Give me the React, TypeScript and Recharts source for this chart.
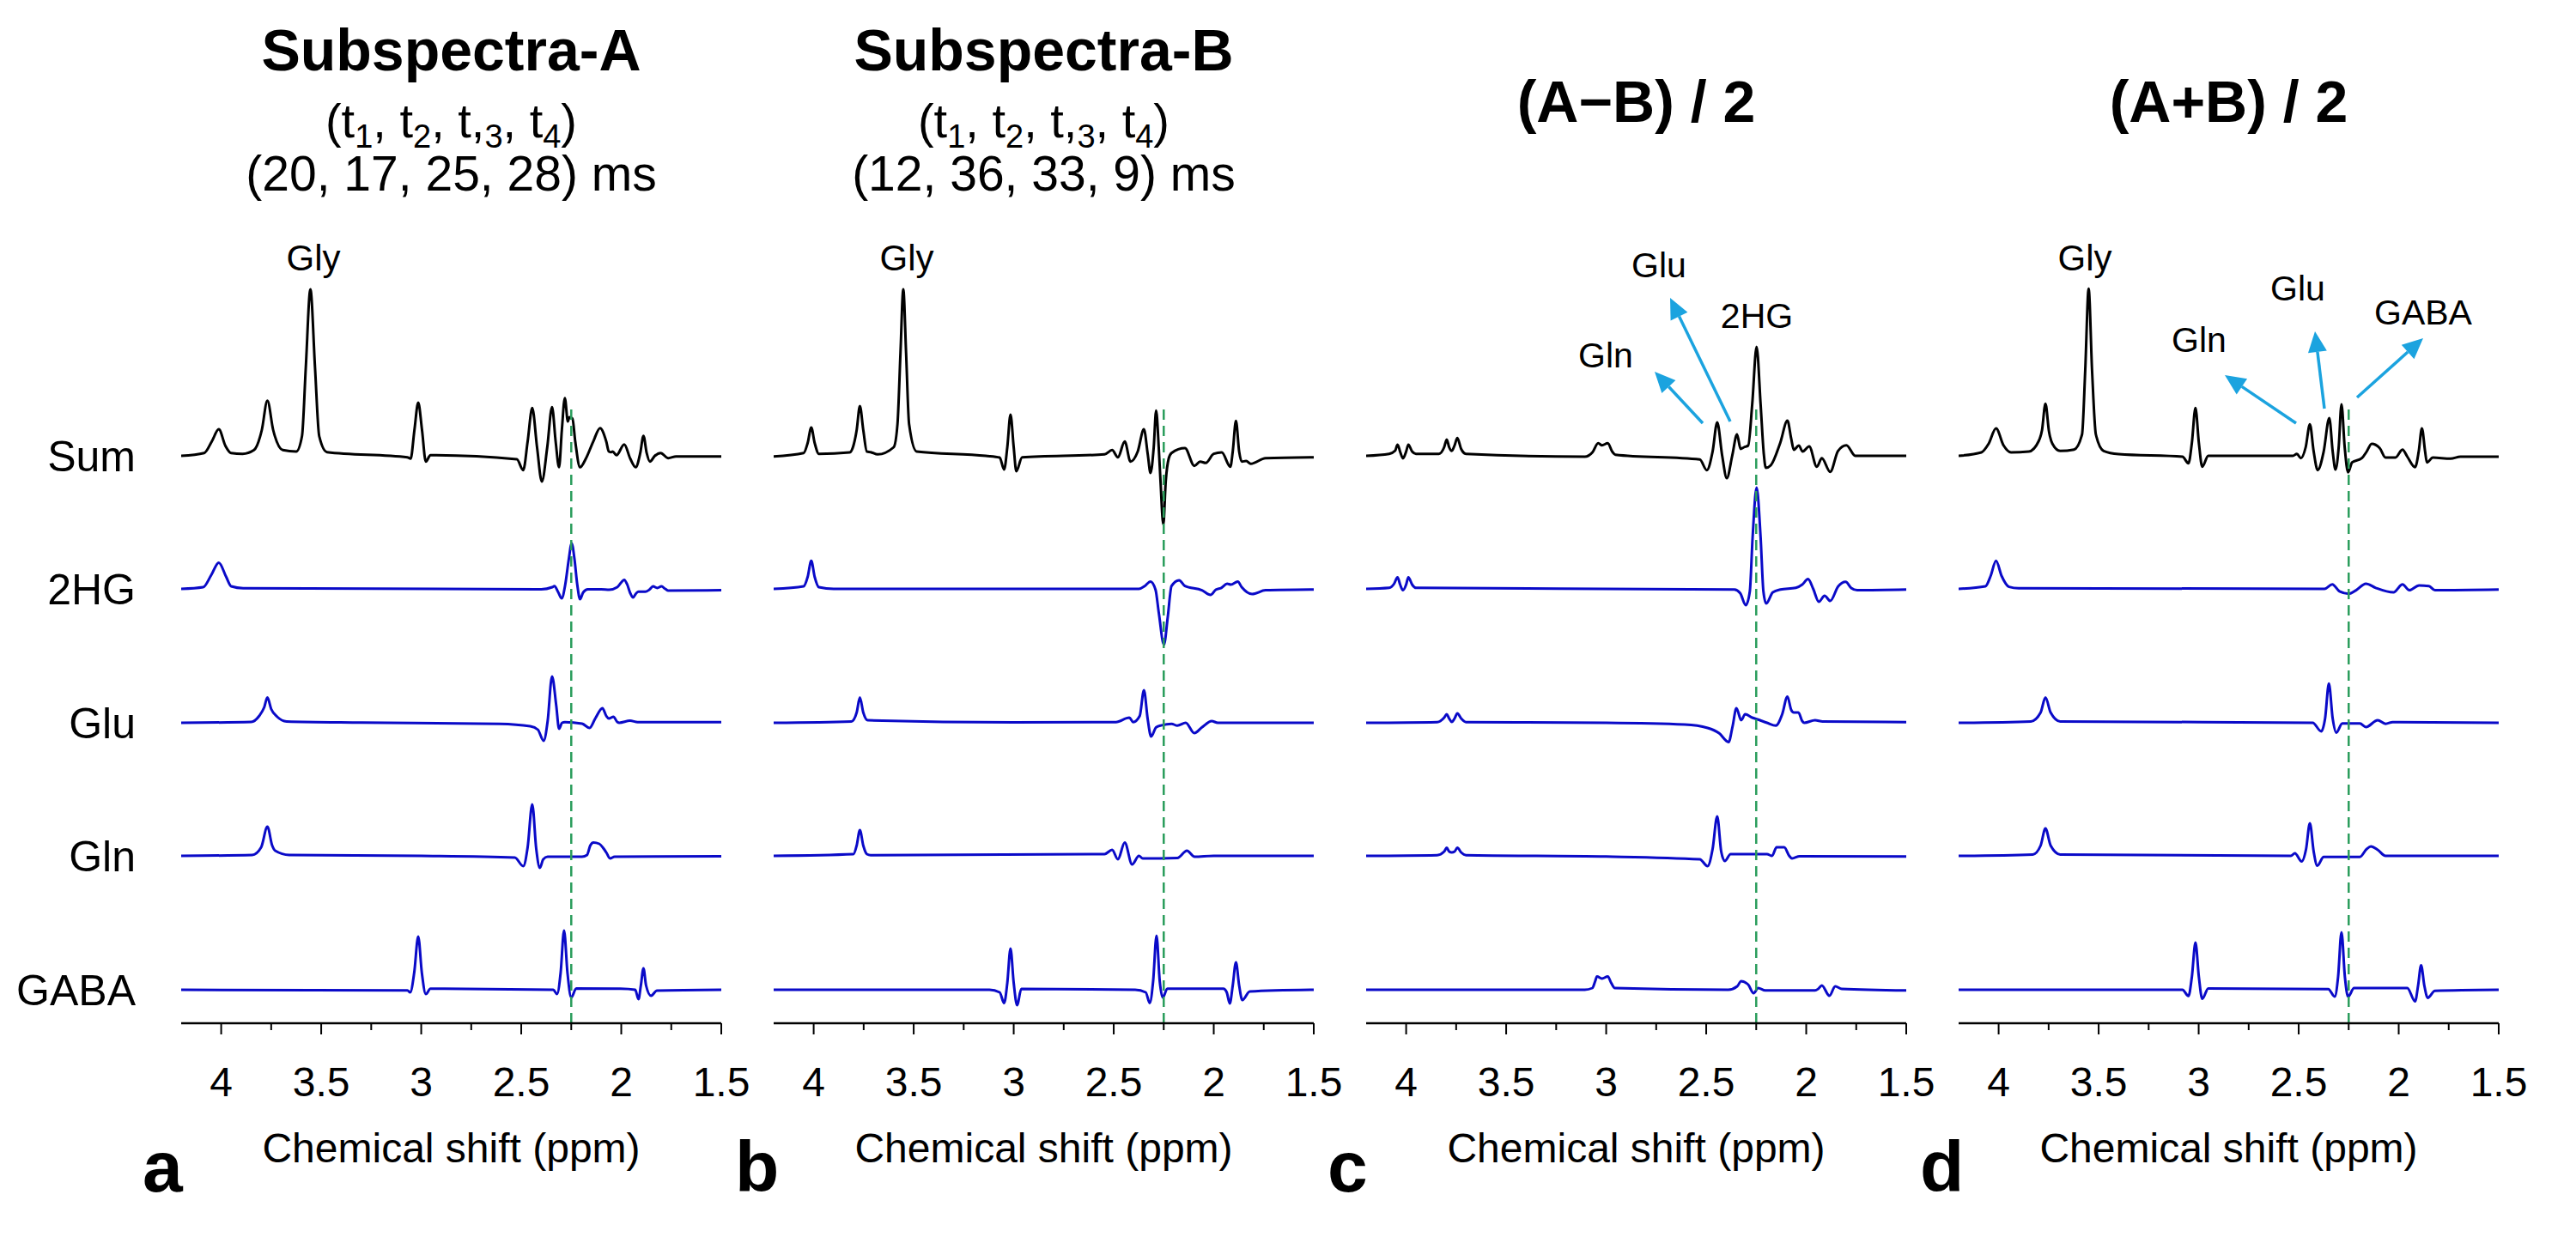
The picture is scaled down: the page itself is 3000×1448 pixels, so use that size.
import React from "react";
import { LineChart, Line, XAxis, YAxis, ReferenceLine } from "recharts";

type Pt = [number, number]; // [ppm, amplitude a.u.]

// ---- axis ----
const ppmDomain: [number, number] = [1.5, 4.2];
const ppmTicks = [4, 3.75, 3.5, 3.25, 3, 2.75, 2.5, 2.25, 2, 1.75, 1.5];
const ppmLabels = ["4", "3.5", "3", "2.5", "2", "1.5"];
const markerPpm = 2.25;

const rowNames = ["Sum", "2HG", "Glu", "Gln", "GABA"];
const panelLetters = ["a", "b", "c", "d"];

// ---- panel a : Subspectra-A ----
const sumA: Pt[] = [[4.2,0],[4.085,3.3],[4.047,16.7],[4.012,31],[3.979,11.7],[3.951,3.3],[3.893,2.3],[3.836,6.7],[3.797,30],[3.769,64.3],[3.74,30],[3.692,6.7],[3.625,5],[3.596,23],[3.577,103],[3.554,194],[3.531,103],[3.51,23],[3.471,4.3],[3.069,-1.7],[3.053,-3.3],[3.034,30],[3.015,62],[2.996,30],[2.977,-6.7],[2.954,0.7],[2.522,-4],[2.49,-16.7],[2.468,16.7],[2.445,55.7],[2.421,10],[2.397,-30],[2.37,10],[2.346,56.7],[2.328,16.7],[2.311,-13.3],[2.297,30],[2.282,67.3],[2.267,40],[2.259,45],[2.244,43.3],[2.23,16.7],[2.206,-13.3],[2.177,-3.3],[2.14,16.7],[2.106,32.3],[2.075,16.7],[2.062,5],[2.05,4.3],[2.043,5],[2.024,0.7],[1.985,13.3],[1.955,-3.3],[1.928,-13.3],[1.905,3.3],[1.889,23.3],[1.873,3.3],[1.857,-6.7],[1.832,0],[1.803,3.3],[1.765,-2.7],[1.726,-0.7],[1.5,-0.7]];
const hgA: Pt[] = [[4.2,0],[4.09,2],[4.05,16],[4.012,30.6],[3.975,14],[3.95,3],[3.89,0.8],[2.4,-0.5],[2.345,2],[2.334,3.3],[2.315,-4],[2.298,-11],[2.28,5],[2.262,35],[2.248,53],[2.234,35],[2.22,5],[2.206,-12],[2.19,-4],[2.167,-0.5],[2.1,-0.5],[2.06,-1],[2.02,2],[1.998,8],[1.985,10.6],[1.97,5],[1.955,-5],[1.941,-10],[1.925,-5],[1.914,-3.3],[1.88,-3.3],[1.86,-1],[1.841,2.9],[1.82,1],[1.799,2.9],[1.78,0],[1.765,-2],[1.5,-1.6]];
const gluA: Pt[] = [[4.2,0],[3.85,1],[3.81,8],[3.785,18],[3.769,29.4],[3.75,16],[3.72,7],[3.673,1.6],[3.3,0.3],[2.608,-1.2],[2.455,-4],[2.417,-8],[2.388,-21],[2.368,2],[2.346,54],[2.325,20],[2.311,-7],[2.296,0],[2.282,0.8],[2.196,-1],[2.158,-6],[2.13,5],[2.094,17],[2.075,8],[2.062,5],[2.039,7],[2.02,1],[2.01,0],[1.956,2.4],[1.918,0.8],[1.5,0.8]];
const glnA: Pt[] = [[4.2,0],[3.845,1],[3.8,10],[3.769,33.9],[3.745,12],[3.73,6],[3.66,1],[3.0,0],[2.532,-2],[2.49,-12],[2.468,10],[2.445,60],[2.425,8],[2.407,-14],[2.39,-4],[2.368,-1],[2.196,-1],[2.171,1],[2.155,12],[2.139,15.5],[2.11,14],[2.09,9],[2.075,4],[2.056,-3],[2.033,-1],[1.5,-0.5]];
const gabaA: Pt[] = [[4.2,0],[3.069,-0.8],[3.055,-3],[3.035,20],[3.015,62],[2.997,20],[2.977,-5],[2.954,1.2],[2.34,0],[2.321,-5],[2.303,20],[2.286,69],[2.269,20],[2.25,-9],[2.225,1.6],[2.004,1.2],[1.93,0],[1.914,-11],[1.902,5],[1.889,25],[1.876,5],[1.851,-7],[1.822,-1],[1.5,0]];

// ---- panel b : Subspectra-B ----
const sumB: Pt[] = [[4.2,-0.7],[4.05,3.3],[4.03,15],[4.012,33],[3.995,15],[3.974,2.3],[3.82,4],[3.801,12],[3.785,30],[3.769,58],[3.752,30],[3.734,5],[3.715,4.3],[3.68,1.7],[3.6,10],[3.581,37],[3.566,120],[3.552,194],[3.538,120],[3.523,37],[3.485,5],[3.14,0],[3.07,-2],[3.048,-16],[3.032,10],[3.016,48],[3.0,10],[2.987,-18],[2.958,-1.7],[2.546,1.7],[2.508,6.7],[2.479,-1.7],[2.445,16.7],[2.416,-6.7],[2.38,5],[2.349,31],[2.33,2],[2.316,-20],[2.3,10],[2.288,52.7],[2.275,10],[2.266,-30],[2.252,-80],[2.24,-30],[2.225,-3],[2.211,3.3],[2.144,9],[2.097,-11.7],[2.068,-6.7],[2.04,-8.3],[2.0,2.3],[1.96,4],[1.917,-12.7],[1.905,5],[1.889,40.7],[1.873,5],[1.86,-6.7],[1.838,-6],[1.815,-9.3],[1.741,-2.7],[1.5,-1.7]];
const hgB: Pt[] = [[4.2,0],[4.05,3],[4.03,14],[4.012,32.7],[3.995,14],[3.974,2],[3.9,0],[2.374,0],[2.345,3.3],[2.316,8.6],[2.291,-1],[2.274,-29],[2.249,-65],[2.23,-33],[2.211,3.3],[2.173,10],[2.144,3.3],[2.059,-1.6],[2.016,-7],[1.99,-1],[1.962,1.2],[1.933,6],[1.914,5],[1.88,8.6],[1.86,2],[1.808,-6],[1.741,-1.6],[1.5,-0.8]];
const gluB: Pt[] = [[4.2,0],[3.811,1.6],[3.785,12],[3.769,29.4],[3.752,12],[3.73,2.9],[3.0,0.5],[2.489,0.8],[2.422,6],[2.403,0.8],[2.37,8],[2.349,38],[2.33,4],[2.313,-16],[2.288,-5.3],[2.26,-2.9],[2.211,-1.2],[2.182,-3.3],[2.14,0],[2.097,-12],[2.059,-5.3],[2.01,2],[1.98,0],[1.5,0]];
const glnB: Pt[] = [[4.2,0],[3.801,2],[3.785,12],[3.769,30],[3.752,12],[3.734,2],[3.715,0.8],[2.546,2],[2.508,7],[2.479,-4],[2.445,15.5],[2.408,-10],[2.374,0],[2.355,-3],[2.182,-2.5],[2.134,6],[2.096,-1],[2.0,0],[1.5,0]];
const gabaB: Pt[] = [[4.2,0],[3.121,0],[3.07,-3],[3.048,-15.5],[3.032,8],[3.016,48],[3.0,8],[2.983,-18],[2.962,1],[2.393,0],[2.34,-3],[2.32,-15.5],[2.303,10],[2.286,63],[2.27,10],[2.255,-9],[2.232,1.2],[1.952,1.2],[1.935,-3],[1.92,-16],[1.905,5],[1.889,32],[1.873,5],[1.857,-12],[1.82,-2],[1.5,0]];

// ---- panel c : (A-B)/2 ----
const sumC: Pt[] = [[4.2,0],[4.085,2.3],[4.055,6],[4.043,13],[4.029,4],[4.016,-3],[4.0,5],[3.989,13],[3.97,5],[3.951,2.3],[3.836,2.3],[3.81,10],[3.797,19],[3.785,10],[3.772,5.7],[3.758,12],[3.744,20.7],[3.725,8],[3.701,2.3],[3.107,-1],[3.069,4],[3.04,14.7],[3.021,12.3],[2.992,14.7],[2.97,5],[2.954,1.3],[2.532,-4.3],[2.497,-16.7],[2.468,5],[2.445,39],[2.42,0],[2.397,-26],[2.37,0],[2.346,25],[2.328,8],[2.311,10],[2.29,12],[2.27,60],[2.248,127],[2.228,60],[2.212,2],[2.202,-14],[2.177,-11],[2.13,15],[2.094,41],[2.075,20],[2.062,7],[2.037,12],[2.018,5],[1.985,11],[1.947,-12.7],[1.922,-2.7],[1.88,-18.7],[1.841,5.7],[1.799,12.3],[1.755,0],[1.5,0]];
const hgC: Pt[] = [[4.2,0],[4.085,1.2],[4.06,6],[4.043,13.5],[4.03,5],[4.016,-1.6],[4.0,5],[3.989,13.5],[3.97,5],[3.951,1.2],[2.359,-0.8],[2.33,-5],[2.302,-19],[2.282,-3],[2.268,60],[2.248,118],[2.228,60],[2.214,-3],[2.2,-17],[2.167,-4],[2.129,-0.8],[2.052,1.2],[2.02,5],[1.991,11.4],[1.965,0],[1.937,-15],[1.908,-8],[1.88,-14],[1.84,3],[1.803,8.2],[1.775,1],[1.745,-1.6],[1.5,-0.8]];
const gluC: Pt[] = [[4.2,0],[3.845,0.8],[3.81,6],[3.797,10],[3.785,5],[3.772,1],[3.758,5],[3.744,11],[3.725,5],[3.701,0.8],[3.0,0],[2.608,-2],[2.493,-6],[2.436,-12],[2.388,-22.4],[2.368,-4],[2.349,17],[2.325,3],[2.305,10],[2.27,6],[2.244,4],[2.196,0],[2.152,-3.3],[2.12,10],[2.094,30.6],[2.075,15],[2.062,12],[2.039,12],[2.02,2],[2.01,0],[1.956,3],[1.918,1.6],[1.5,0.8]];
const glnC: Pt[] = [[4.2,0],[3.845,0.8],[3.81,5],[3.797,9.4],[3.785,5],[3.772,4],[3.758,5],[3.744,9.4],[3.725,4],[3.701,0.8],[3.0,-0.8],[2.532,-4],[2.493,-12],[2.468,8],[2.445,46],[2.425,5],[2.407,-6],[2.378,2],[2.196,2],[2.171,0],[2.148,10],[2.11,10],[2.085,0],[2.071,-3],[2.033,-0.4],[1.5,-0.8]];
const gabaC: Pt[] = [[4.2,0],[3.107,0],[3.069,2],[3.055,10],[3.046,15.5],[3.021,13],[2.992,15.5],[2.975,8],[2.957,2],[2.39,0],[2.345,4],[2.325,10],[2.29,6],[2.263,-4],[2.24,2],[2.205,-0.8],[1.956,-0.8],[1.94,1],[1.922,5],[1.884,-7],[1.855,4],[1.822,1],[1.5,-0.8]];

// ---- panel d : (A+B)/2 ----
const sumD: Pt[] = [[4.2,0],[4.086,4],[4.05,14],[4.013,32],[3.975,12],[3.938,4],[3.849,5],[3.8,17],[3.783,30],[3.766,60.7],[3.748,28],[3.731,14],[3.692,5.7],[3.623,7.3],[3.583,25],[3.567,100],[3.55,194.7],[3.533,100],[3.514,25],[3.475,5.7],[3.4,2],[3.081,-1],[3.051,-8.7],[3.034,15],[3.016,55.7],[2.999,15],[2.982,-12.7],[2.952,0],[2.529,0],[2.509,2.3],[2.489,-2.7],[2.465,10],[2.444,36.7],[2.425,5],[2.405,-16.7],[2.375,5],[2.347,44],[2.33,5],[2.316,-16],[2.3,10],[2.286,60],[2.27,10],[2.253,-19.3],[2.233,-7.7],[2.184,-2.7],[2.16,5],[2.135,14],[2.095,9],[2.066,-2],[2.016,-2],[1.981,7.3],[1.957,-1],[1.918,-13.3],[1.9,5],[1.884,32],[1.868,5],[1.859,-7.7],[1.829,-2],[1.741,-3.3],[1.691,-1],[1.5,-1]];
const hgD: Pt[] = [[4.2,0],[4.066,3],[4.04,15],[4.013,32.7],[3.985,15],[3.948,2.4],[3.9,0.8],[2.371,0],[2.332,5.3],[2.296,-2.9],[2.249,-5.7],[2.213,-1.6],[2.164,6],[2.115,1.2],[2.026,-4],[1.981,5.3],[1.947,-1.6],[1.898,4],[1.849,3.3],[1.819,-1.6],[1.5,-0.8]];
const gluD: Pt[] = [[4.2,0],[3.839,1.6],[3.79,12],[3.766,29.4],[3.74,12],[3.692,1.6],[2.43,0],[2.387,-10],[2.368,5],[2.349,45.7],[2.33,5],[2.312,-11.4],[2.282,-0.8],[2.194,-0.8],[2.164,-5],[2.105,3],[2.066,-1.2],[2.03,0.8],[1.5,0]];
const glnD: Pt[] = [[4.2,0],[3.829,1.6],[3.79,12],[3.766,32],[3.74,12],[3.692,1.6],[2.539,0],[2.519,3],[2.485,-6.5],[2.463,8],[2.444,38],[2.425,5],[2.407,-11.4],[2.375,-1.2],[2.194,-1.2],[2.16,8],[2.139,11],[2.105,7],[2.066,0],[1.5,0]];
const gabaD: Pt[] = [[4.2,0],[3.081,0],[3.051,-7.3],[3.034,15],[3.016,55],[2.999,15],[2.982,-10.6],[2.952,1.6],[2.352,0.8],[2.32,-8],[2.303,15],[2.286,67],[2.269,15],[2.253,-8],[2.223,2],[1.957,2],[1.918,-13.5],[1.903,5],[1.888,28.6],[1.872,5],[1.855,-9.4],[1.819,-1.2],[1.5,0]];

const panelTraces = [
  [sumA, hgA, gluA, glnA, gabaA],
  [sumB, hgB, gluB, glnB, gabaB],
  [sumC, hgC, gluC, glnC, gabaC],
  [sumD, hgD, gluD, glnD, gabaD],
];

// ---- layout ----
const FONT = "'Liberation Sans', Arial, Helvetica, sans-serif";
const BLUE = "#0a0ac8";
const GREEN = "#2a9d5c";
const ARROW = "#1ba3df";
const AXIS_X0 = 211;
const AXIS_W = 629;
const STEP = 690;
const AXIS_Y = 1192;
const PLOT_H = 942;
const PLOT_TOP = AXIS_Y - PLOT_H;
const XAXIS_H = 110;
const PAD = 50;
const ROW_BASE = [661, 506, 350, 195, 39];
const MARKER_TOP = 722;

const panelCenter = (i: number) => AXIS_X0 + AXIS_W / 2 + i * STEP;

function PpmTick(props: any) {
  const { x, y, payload } = props;
  const v = payload.value as number;
  const label = ppmLabels.find((l) => Number(l) === v);
  return (
    <g>
      <line x1={x} x2={x} y1={y} y2={y + (label ? 13 : 8)} stroke="#000" strokeWidth={2} />
      {label && (
        <text x={x} y={y + 85} textAnchor="middle" fontSize={48} fontFamily={FONT} fill="#000">
          {label}
        </text>
      )}
    </g>
  );
}

function Panel({ index, traces }: { index: number; traces: Pt[][] }) {
  const series = traces.map((t, r) => t.map(([ppm, amp]) => ({ ppm, v: amp + ROW_BASE[r] })));
  return (
    <div style={{ position: "absolute", left: AXIS_X0 + index * STEP - PAD, top: PLOT_TOP }}>
      <LineChart
        width={AXIS_W + 2 * PAD}
        height={PLOT_H + XAXIS_H}
        margin={{ top: 0, right: PAD, bottom: 0, left: PAD }}
      >
        <XAxis
          dataKey="ppm"
          type="number"
          domain={ppmDomain}
          reversed
          allowDataOverflow
          ticks={ppmTicks}
          interval={0}
          height={XAXIS_H}
          tickSize={0}
          tickMargin={0}
          tickLine={false}
          axisLine={{ stroke: "#000", strokeWidth: 2.5 }}
          tick={(p: any) => <PpmTick {...p} />}
        />
        <YAxis hide type="number" domain={[0, PLOT_H]} allowDataOverflow />
        {series.map((d, r) => (
          <Line
            key={r}
            data={d}
            dataKey="v"
            type="monotone"
            stroke={r === 0 ? "#000" : BLUE}
            strokeWidth={3}
            strokeLinejoin="round"
            dot={false}
            activeDot={false}
            isAnimationActive={false}
          />
        ))}
        <ReferenceLine
          segment={[{ x: markerPpm, y: 0 }, { x: markerPpm, y: MARKER_TOP }]}
          stroke={GREEN}
          strokeWidth={2.5}
          strokeDasharray="12 7"
        />
      </LineChart>
    </div>
  );
}

function Arrow({ from, to }: { from: [number, number]; to: [number, number] }) {
  const dx = to[0] - from[0];
  const dy = to[1] - from[1];
  const len = Math.hypot(dx, dy);
  const ux = dx / len;
  const uy = dy / len;
  const hl = 24;
  const hw = 11;
  const bx = to[0] - ux * hl;
  const by = to[1] - uy * hl;
  return (
    <g>
      <line x1={from[0]} y1={from[1]} x2={bx} y2={by} stroke={ARROW} strokeWidth={3.5} />
      <polygon
        points={`${to[0]},${to[1]} ${bx - uy * hw},${by + ux * hw} ${bx + uy * hw},${by - ux * hw}`}
        fill={ARROW}
      />
    </g>
  );
}

function TimingLine({ x, y }: { x: number; y: number }) {
  return (
    <text x={x} y={y} textAnchor="middle" fontSize={56} fontFamily={FONT}>
      (t<tspan dy={12} fontSize={38}>1</tspan>
      <tspan dy={-12}>, t</tspan>
      <tspan dy={12} fontSize={38}>2</tspan>
      <tspan dy={-12}>, t,</tspan>
      <tspan dy={12} fontSize={38}>3</tspan>
      <tspan dy={-12}>, t</tspan>
      <tspan dy={12} fontSize={38}>4</tspan>
      <tspan dy={-12}>)</tspan>
    </text>
  );
}

function Overlay() {
  return (
    <svg
      width={3000}
      height={1448}
      style={{ position: "absolute", left: 0, top: 0, pointerEvents: "none" }}
      fontFamily={FONT}
    >
      {/* titles */}
      <text x={panelCenter(0)} y={82} textAnchor="middle" fontSize={68} fontWeight="bold">Subspectra-A</text>
      <TimingLine x={panelCenter(0)} y={160} />
      <text x={panelCenter(0)} y={222} textAnchor="middle" fontSize={57}>(20, 17, 25, 28) ms</text>
      <text x={panelCenter(1)} y={82} textAnchor="middle" fontSize={68} fontWeight="bold">Subspectra-B</text>
      <TimingLine x={panelCenter(1)} y={160} />
      <text x={panelCenter(1)} y={222} textAnchor="middle" fontSize={57}>(12, 36, 33, 9) ms</text>
      <text x={panelCenter(2)} y={142} textAnchor="middle" fontSize={68} fontWeight="bold">(A−B) / 2</text>
      <text x={panelCenter(3)} y={142} textAnchor="middle" fontSize={68} fontWeight="bold">(A+B) / 2</text>

      {/* row labels */}
      {rowNames.map((n, r) => (
        <text key={n} x={158} y={AXIS_Y - ROW_BASE[r] + 18} textAnchor="end" fontSize={50}>{n}</text>
      ))}

      {/* axis titles and panel letters */}
      {panelLetters.map((l, i) => (
        <g key={l}>
          <text x={panelCenter(i)} y={1354} textAnchor="middle" fontSize={48}>Chemical shift (ppm)</text>
          <text x={166 + i * STEP} y={1388} fontSize={84} fontWeight="bold">{l}</text>
        </g>
      ))}

      {/* peak annotations */}
      <text x={365} y={315} textAnchor="middle" fontSize={42}>Gly</text>
      <text x={1056} y={315} textAnchor="middle" fontSize={42}>Gly</text>
      <text x={2428} y={315} textAnchor="middle" fontSize={42}>Gly</text>

      <text x={1932} y={323} textAnchor="middle" fontSize={41}>Glu</text>
      <text x={2046} y={382} textAnchor="middle" fontSize={41}>2HG</text>
      <text x={1870} y={428} textAnchor="middle" fontSize={41}>Gln</text>
      <Arrow from={[1983, 493]} to={[1927, 433]} />
      <Arrow from={[2015, 491]} to={[1945, 347]} />

      <text x={2676} y={350} textAnchor="middle" fontSize={41}>Glu</text>
      <text x={2822} y={378} textAnchor="middle" fontSize={41}>GABA</text>
      <text x={2561} y={410} textAnchor="middle" fontSize={41}>Gln</text>
      <Arrow from={[2674, 493]} to={[2591, 437]} />
      <Arrow from={[2707, 476]} to={[2696, 386]} />
      <Arrow from={[2745, 463]} to={[2822, 394]} />
    </svg>
  );
}

export default function App() {
  return (
    <div style={{ position: "absolute", left: 0, top: 0, width: 3000, height: 1448, background: "#fff", overflow: "hidden" }}>
      {panelTraces.map((t, i) => (
        <Panel key={i} index={i} traces={t} />
      ))}
      <Overlay />
    </div>
  );
}
